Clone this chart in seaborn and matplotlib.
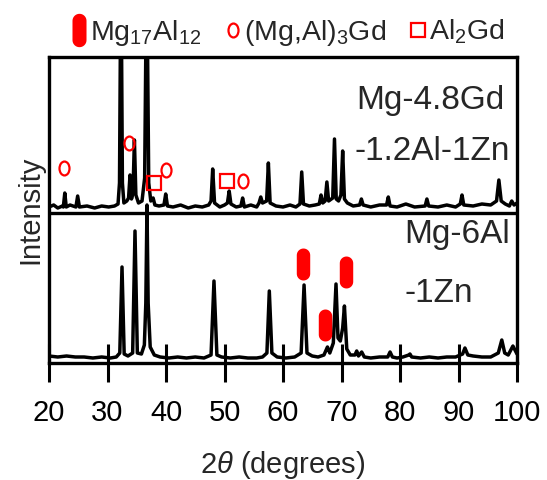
import numpy as np
import pandas as pd
import matplotlib
matplotlib.use("Agg")
import matplotlib.pyplot as plt
from matplotlib.path import Path
from matplotlib.transforms import Affine2D
from matplotlib.lines import Line2D
import seaborn as sns

# ---------------- data ----------------
top_2theta = [20.0, 20.8, 21.5, 22.3, 22.45, 22.7, 22.95, 23.6, 24.6, 24.9, 25.2, 26.5, 27.8, 29.0,
              30.2, 31.2, 31.8, 32.05, 32.3, 32.55, 32.8, 33.3, 33.6, 33.85, 34.1, 34.35, 34.6, 34.85,
              35.3, 35.9, 36.35, 36.7, 37.05, 37.4, 37.8, 38.1, 38.8, 39.65, 39.95, 40.25, 41.2, 42.5,
              43.8, 45.0, 46.2, 47.3, 47.7, 47.98, 48.3, 49.2, 50.0, 50.5, 50.8, 51.1, 52.0, 52.8,
              53.1, 53.4, 54.5, 55.5, 55.9, 56.2, 56.5, 57.2, 57.5, 57.8, 58.8, 60.0, 61.2, 62.2,
              62.9, 63.2, 63.5, 64.5, 65.5, 66.2, 66.5, 66.8, 67.2, 67.5, 67.8, 68.5, 68.8, 69.1,
              69.5, 69.9, 70.2, 70.5, 71.0, 72.0, 73.1, 73.4, 73.7, 75.0, 76.5, 77.7, 78.0, 78.3,
              79.5, 81.0, 82.5, 84.3, 84.6, 84.9, 86.5, 88.0, 89.5, 90.3, 90.6, 90.9, 92.5, 94.0,
              95.5, 96.5, 96.9, 97.3, 98.0, 98.7, 99.1, 99.5, 100.0]
top_counts = [6, 8, 5, 7, 6, 20, 6, 8, 6, 17, 6, 7, 5, 7,
              6, 7, 9, 30, 260, 30, 10, 12, 15, 38, 14, 20, 73, 18,
              10, 12, 35, 260, 30, 12, 15, 8, 7, 8, 19, 7, 6, 8,
              5, 7, 6, 8, 12, 44, 10, 6, 8, 10, 22, 9, 6, 7,
              15, 6, 8, 6, 10, 16, 10, 12, 50, 10, 7, 6, 8, 6,
              9, 41, 9, 7, 8, 9, 18, 10, 12, 31, 12, 15, 74, 14,
              12, 18, 62, 14, 10, 7, 8, 14, 8, 6, 8, 8, 16, 7,
              6, 9, 6, 7, 14, 7, 6, 8, 6, 9, 18, 8, 7, 9,
              8, 12, 33, 12, 9, 7, 12, 8, 10]

bot_2theta = [20.0, 21.5, 23.0, 24.5, 26.0, 27.5, 29.0, 30.5, 31.5, 32.1, 32.48, 32.85, 33.5, 34.3,
              34.7, 35.1, 35.8, 36.3, 36.55, 36.75, 36.95, 37.3, 38.0, 39.0, 40.5, 42.0, 43.5, 45.0,
              46.5, 47.7, 48.2, 48.7, 49.5, 51.0, 52.5, 54.0, 55.5, 56.5, 57.25, 57.66, 58.1, 59.0,
              60.5, 62.0, 63.1, 63.6, 64.1, 65.0, 66.0, 67.0, 67.3, 67.6, 68.0, 68.6, 69.06, 69.4,
              69.8, 70.2, 70.5, 70.9, 71.5, 72.3, 72.6, 72.9, 73.45, 73.9, 75.0, 76.5, 77.9, 78.3,
              78.7, 79.5, 80.5, 81.5, 81.7, 82.0, 83.5, 85.0, 86.5, 88.0, 89.5, 90.7, 91.1, 91.6,
              92.5, 94.0, 95.5, 96.8, 97.4, 97.9, 98.5, 99.3, 100.0]
bot_counts = [7, 6, 7, 6, 6, 5, 6, 5, 6, 10, 96, 9, 7, 10,
              132, 10, 9, 18, 60, 158, 60, 16, 8, 6, 5, 6, 5, 6,
              5, 8, 82, 8, 6, 5, 6, 5, 5, 6, 10, 72, 10, 6,
              5, 6, 10, 78, 10, 7, 6, 8, 12, 16, 10, 20, 79, 25,
              22, 35, 57, 14, 8, 8, 12, 7, 11, 6, 5, 6, 6, 11,
              6, 5, 6, 8, 9, 6, 5, 6, 5, 6, 6, 9, 15, 8,
              7, 6, 6, 10, 23, 10, 8, 17, 9]

top_offset = 150

# phase markers (2theta, height above the trace's own zero)
mgal3gd_2theta = [22.6, 33.7, 40.0, 53.2]
mgal3gd_counts = [45, 70, 43, 32]
al2gd_2theta = [37.95, 50.4]
al2gd_counts = [30, 32]
mg17al12_2theta = [63.4, 67.2, 70.8]
mg17al12_counts = [99, 38, 91]

xticks = [20, 30, 40, 50, 60, 70, 80, 90, 100]

# ---------------- style ----------------
sns.set_theme(style="white")
plt.rcParams["font.family"] = ["Liberation Sans", "DejaVu Sans"]
plt.rcParams["mathtext.fontset"] = "custom"
plt.rcParams["mathtext.rm"] = "Liberation Sans"
plt.rcParams["mathtext.it"] = "Liberation Sans:italic"
plt.rcParams["mathtext.default"] = "regular"

RED = "#ff0000"

# marker shapes
ellipse = Path.unit_circle().transformed(Affine2D().scale(0.72, 1.0))
r = 0.21
t1 = np.linspace(0, np.pi, 20)
t2 = np.linspace(np.pi, 2 * np.pi, 20)
cap_v = np.concatenate([
    np.column_stack([r * np.cos(t1), 0.5 - r + r * np.sin(t1)]),
    np.column_stack([r * np.cos(t2), -(0.5 - r) + r * np.sin(t2)]),
])
cap_v = np.vstack([cap_v, cap_v[:1]])
capsule = Path(cap_v, closed=True)

fig = plt.figure(figsize=(5.47, 4.8), dpi=100)
ax = fig.add_axes([49 / 547, 117 / 480, 468 / 547, 306 / 480])

df_top = pd.DataFrame({"x": top_2theta, "y": np.array(top_counts) + top_offset})
df_bot = pd.DataFrame({"x": bot_2theta, "y": bot_counts})
sns.lineplot(data=df_bot, x="x", y="y", ax=ax, color="black", lw=2.5,
             sort=False, estimator=None)
sns.lineplot(data=df_top, x="x", y="y", ax=ax, color="black", lw=2.5,
             sort=False, estimator=None)
ax.axhline(top_offset, color="black", lw=2.4)

ax.plot(mgal3gd_2theta, np.array(mgal3gd_counts) + top_offset, ls="none", marker=ellipse,
        ms=10, mfc="none", mec=RED, mew=1.6)
ax.plot(al2gd_2theta, np.array(al2gd_counts) + top_offset, ls="none", marker="s",
        ms=9.5, mfc="none", mec=RED, mew=1.6)
ax.plot(mg17al12_2theta, mg17al12_counts, ls="none", marker=capsule,
        ms=23, mfc=RED, mec=RED, mew=0)

ax.text(72.5, 254, "Mg-4.8Gd", fontsize=24, ha="left", va="baseline")
ax.text(72.3, 203, "-1.2Al-1Zn", fontsize=24, ha="left", va="baseline")
ax.text(80.8, 120, "Mg-6Al", fontsize=24, ha="left", va="baseline")
ax.text(80.8, 61, "-1Zn", fontsize=24, ha="left", va="baseline")

ax.set_xlim(20, 100)
ax.set_ylim(0, 306)
ax.set_xticks(xticks)
ax.set_xticklabels([str(v) for v in xticks])
ax.set_yticks([])
ax.tick_params(axis="x", direction="inout", length=28, width=2.2, labelsize=21, pad=12,
               colors="black", bottom=True)
for s in ax.spines.values():
    s.set_linewidth(2.4)
    s.set_color("black")
ax.set_xlabel(r"2$\mathit{\theta}$ (degrees)", fontsize=21, labelpad=16)
ax.set_ylabel("Intensity", fontsize=21, labelpad=3)

handles = [
    Line2D([], [], ls="none", marker=capsule, ms=24, mfc=RED, mec=RED, mew=0),
    Line2D([], [], ls="none", marker=ellipse, ms=10, mfc="none", mec=RED, mew=1.6),
    Line2D([], [], ls="none", marker="s", ms=10, mfc="none", mec=RED, mew=1.6),
]
labels = [r"Mg$_{17}$Al$_{12}$", r"(Mg,Al)$_{3}$Gd", r"Al$_{2}$Gd"]
ax.legend(handles, labels, ncol=3, loc="center", bbox_to_anchor=(0.51, 1.08),
          frameon=False, fontsize=20.5, handlelength=0.6, handletextpad=0.1,
          columnspacing=0.8, borderaxespad=0)

fig.savefig("out.png", dpi=100)
